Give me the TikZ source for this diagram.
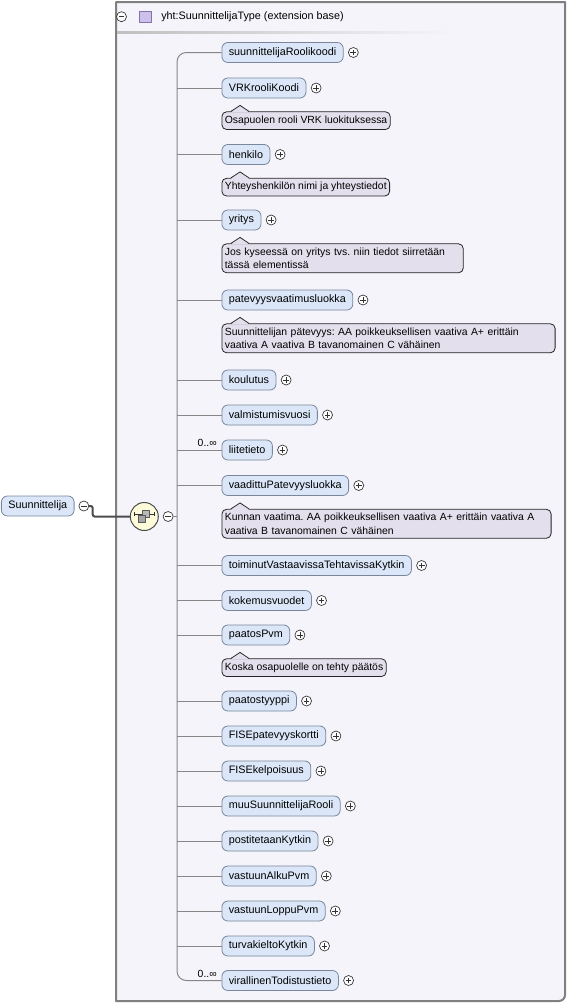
\documentclass[tikz,border=0pt]{standalone}
\usepackage{fontspec}
\setmainfont{Liberation Sans}
\usetikzlibrary{positioning}
\definecolor{boxfill}{RGB}{245,244,250}
\definecolor{boxline}{RGB}{128,128,128}
\definecolor{elemfill}{RGB}{219,231,248}
\definecolor{elemline}{RGB}{120,135,155}
\definecolor{notefill}{RGB}{228,223,237}
\definecolor{noteline}{RGB}{35,35,35}
\definecolor{treeline}{RGB}{135,135,135}
\definecolor{seqfill}{RGB}{253,251,218}
\definecolor{iconfill}{RGB}{205,193,234}
\definecolor{iconline}{RGB}{130,115,175}

\tikzset{
  elem/.style={draw=elemline, fill=elemfill, rounded corners=4.5pt, inner xsep=5.2pt,
    inner ysep=0pt, minimum height=15pt, anchor=west, line width=0.6pt,
    font=\fontsize{8.1}{10}\selectfont},
  note/.style={draw=noteline, fill=notefill, rounded corners=3.5pt, inner xsep=2.2pt,
    inner ysep=3pt, align=left, line width=0.6pt},
  knob/.style={circle, draw=black!80, fill=white, minimum size=7.5pt, inner sep=0pt, line width=0.5pt},
  expand/.style={knob, path picture={\draw[black!80, line width=0.5pt]
    ([xshift=-2.2pt]path picture bounding box.center) -- ([xshift=2.2pt]path picture bounding box.center)
    ([yshift=-2.2pt]path picture bounding box.center) -- ([yshift=2.2pt]path picture bounding box.center);}},
  collapse/.style={knob, path picture={\draw[black!80, line width=0.5pt]
    ([xshift=-2.2pt]path picture bounding box.center) -- ([xshift=2.2pt]path picture bounding box.center);}},
  branch/.style={treeline, line width=0.75pt},
  rootline/.style={black!70, line width=1.5pt},
  card/.style={inner sep=0pt, anchor=south east},
}

% pointer of an annotation towards the element above it
\newcommand{\notetip}[1]{%
  \fill[notefill] ([xshift=7.1pt,yshift=-0.7pt]#1.north west) -- ([xshift=13.9pt,yshift=4.5pt]#1.north west)
    -- ([xshift=20.6pt,yshift=-0.7pt]#1.north west) -- cycle;
  \draw[noteline, line width=0.6pt] ([xshift=7.1pt]#1.north west) -- ([xshift=13.9pt,yshift=4.5pt]#1.north west)
    -- ([xshift=20.6pt]#1.north west);}

\frenchspacing
\begin{document}
\begin{tikzpicture}[x=0.75pt, y=-0.75pt, font=\fontsize{7.8}{10}\selectfont, line join=round]
\useasboundingbox (0,0) rectangle (586,1004);

% ---------- type box ----------
\draw[boxline, line width=1.5pt, fill=boxfill]
  (116,1001) -- (116,2) -- (565,2) -- (565,995) arc[start angle=0, end angle=-90, radius=4.5pt] -- cycle;
\shade[left color=black!25, middle color=black!50, right color=boxfill] (117,31) rectangle (455,33);

\node[collapse] (hdr-x) at (121.5,16.7) {};
\node[draw=iconline, fill=iconfill, minimum size=8.5pt, inner sep=0pt, line width=0.5pt] (hdr-icon) at (145.3,16.8) {};
\node[anchor=west, inner sep=0pt, font=\fontsize{8.1}{10}\selectfont] (hdr) at (161,16.7) {yht:SuunnittelijaType (extension base)};

% ---------- root element and sequence ----------
\node[elem] (root) at (1,506) {Suunnittelija};
\node[collapse, right=3pt of root] (root-x) {};
\node[circle, draw=black!70, fill=seqfill, minimum size=21pt, inner sep=0pt, line width=0.75pt] (seq) at (144.3,516.5) {};
\node[collapse, right=3pt of seq] (seq-x) {};
\coordinate (spine) at (177,516.5);

\begin{scope}[shift={(seq.center)}]
  \draw[black!80, line width=0.7pt] (-10,-2.5) -- (10,-2.5);
  \draw[black!80, line width=0.7pt] (-10,-4.5) -- (-10,-0.5) (10,-4.5) -- (10,-0.5);
  \filldraw[fill=gray!55, draw=black!65, line width=0.5pt] (-1.5,-6.5) rectangle (5.5,0.5);
  \filldraw[fill=gray!70, draw=black!65, line width=0.5pt] (-6,-1) rectangle (1,6);
\end{scope}

% ---------- child elements ----------
\foreach \n/\y/\txt in {e1/52.5/suunnittelijaRoolikoodi, e2/88/VRKrooliKoodi, e3/154.5/henkilo,
    e4/220/yritys, e5/300/patevyysvaatimusluokka, e6/380/koulutus, e7/415/valmistumisvuosi,
    e8/450/liitetieto, e9/485.5/vaadittuPatevyysluokka, e10/565.5/toiminutVastaavissaTehtavissaKytkin,
    e11/600.5/kokemusvuodet, e12/635/paatosPvm, e13/701/paatostyyppi, e14/736/FISEpatevyyskortti,
    e15/771/FISEkelpoisuus, e16/806/muuSuunnittelijaRooli, e17/841/postitetaanKytkin,
    e18/876/vastuunAlkuPvm, e19/911/vastuunLoppuPvm, e20/946/turvakieltoKytkin,
    e21/980.5/virallinenTodistustieto}
{
  \node[elem] (\n) at (221.5,\y) {\txt};
  \node[expand, right=3.3pt of \n] (\n-x) {};
}

\node[card, above left=2pt and 3.4pt of e8.west] (c8) {0..∞};
\node[card, above left=2pt and 3.4pt of e21.west] (c21) {0..∞};

% ---------- annotations ----------
\node[note, below right=9.75pt and 0pt of e2.south west] (n2) {Osapuolen rooli VRK luokituksessa};
\node[note, below right=9.75pt and 0pt of e3.south west] (n3) {Yhteyshenkilön nimi ja yhteystiedot};
\node[note, text width=176.6pt, below right=9.75pt and 0pt of e4.south west] (n4)
  {Jos kyseessä on yritys tvs. niin tiedot siirretään\\tässä elementissä};
\node[note, text width=245.5pt, below right=9.75pt and 0pt of e5.south west] (n5)
  {Suunnittelijan pätevyys: AA poikkeuksellisen vaativa A+ erittäin\\vaativa A vaativa B tavanomainen C vähäinen};
\node[note, text width=242.5pt, below right=9.75pt and 0pt of e9.south west] (n9)
  {Kunnan vaatima. AA poikkeuksellisen vaativa A+ erittäin vaativa A\\vaativa B tavanomainen C vähäinen};
\node[note, below right=9.75pt and 0pt of e12.south west] (n12) {Koska osapuolelle on tehty päätös};
\foreach \n in {n2,n3,n4,n5,n9,n12} {\notetip{\n}}

% ---------- connectors ----------
\draw[branch, rounded corners=7pt] (e1.west) -| (spine) |- (e21.west);
\foreach \n in {e2,e3,e4,e5,e6,e7,e8,e9,e10,e11,e12,e13,e14,e15,e16,e17,e18,e19,e20}
  \draw[branch] (spine |- \n.west) -- (\n.west);
\draw[branch] (seq-x.east) -- (spine);
\draw[rootline, rounded corners=1.5pt] (root-x.east) -- ++(3.5,0) |- (seq.west);

\end{tikzpicture}
\end{document}
